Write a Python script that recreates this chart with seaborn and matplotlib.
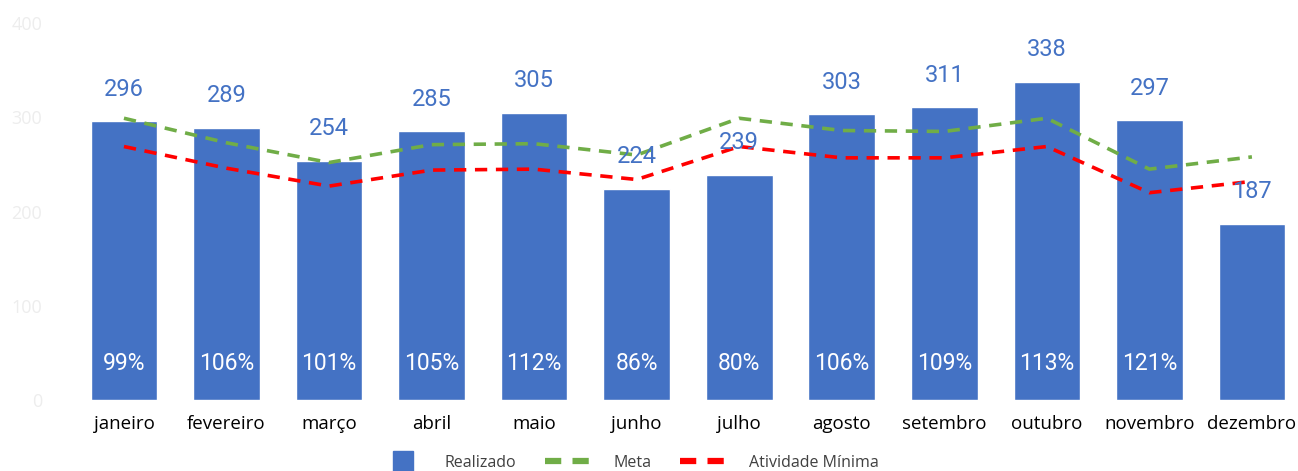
import numpy as np
import pandas as pd
import matplotlib
matplotlib.use("Agg")
import matplotlib.pyplot as plt
import seaborn as sns
from matplotlib.lines import Line2D

# === Data ===
meses = ["janeiro", "fevereiro", "março", "abril", "maio", "junho",
         "julho", "agosto", "setembro", "outubro", "novembro", "dezembro"]
realizado = [296, 289, 254, 285, 305, 224, 239, 303, 311, 338, 297, 187]
meta = [299, 273, 252, 271, 272, 260, 299, 286, 285, 299, 245, 258]
atividade_minima = [269, 246, 227, 244, 245, 234, 269, 257, 257, 269, 220, 232]
percentuais = ["99%", "106%", "101%", "105%", "112%", "86%",
               "80%", "106%", "109%", "113%", "121%", ""]

azul = "#4472C4"
verde = "#70AD47"
vermelho = "#FF0000"

df = pd.DataFrame({"mes": meses, "realizado": realizado,
                   "meta": meta, "minima": atividade_minima,
                   "pos": np.arange(len(meses))})

sns.set_style("white")
plt.rcParams["font.family"] = ["Open Sans", "DejaVu Sans"]

fig = plt.figure(figsize=(12.98, 4.71), dpi=100)
ax = fig.add_axes([0.056, 0.1507, 0.948, 0.8003])

sns.barplot(data=df, x="mes", y="realizado", color=azul, width=0.65,
            saturation=1, ax=ax)
sns.lineplot(data=df, x="pos", y="meta", color=verde, linewidth=2.6,
             dashes=False, ax=ax).lines[-1].set_dashes((3.4, 2.4))
sns.lineplot(data=df, x="pos", y="minima", color=vermelho, linewidth=2.6,
             dashes=False, ax=ax).lines[-1].set_dashes((3.4, 2.4))

# === Labels ===
for i, v in enumerate(realizado):
    ax.annotate(str(v), (i, v), xytext=(0, 23), textcoords="offset points",
                ha="center", va="center", color=azul, fontsize=17,
                family=["Roboto", "DejaVu Sans"])
    if percentuais[i]:
        ax.text(i, 39, percentuais[i], ha="center", va="center",
                color="white", fontsize=16.5, family=["Roboto", "DejaVu Sans"])

ax.set_ylim(0, 400)
ax.set_xlim(-0.5, 11.5)
ax.set_yticks([0, 100, 200, 300, 400])
ax.tick_params(axis="y", colors="#EDEDED", labelsize=13, length=0, pad=22)
ax.tick_params(axis="x", colors="black", labelsize=13.5, length=0, pad=11)
ax.set_xlabel("")
ax.set_ylabel("")
for s in ax.spines.values():
    s.set_visible(False)

handles = [
    Line2D([0], [0], marker="s", color="none", markerfacecolor=azul,
           markeredgecolor=azul, markersize=14, label="Realizado"),
    Line2D([0], [0], color=verde, lw=4.5, dashes=(2.6, 1.8), label="Meta"),
    Line2D([0], [0], color=vermelho, lw=4.5, dashes=(2.6, 1.8),
           label="Atividade Mínima"),
]
fig.legend(handles=handles, loc="center", bbox_to_anchor=(0.483, 0.018),
           ncol=3, frameon=False, fontsize=11.5, handlelength=3.4,
           columnspacing=1.8, handletextpad=0.9, labelcolor="#404040")

fig.savefig("out.png", dpi=100)
